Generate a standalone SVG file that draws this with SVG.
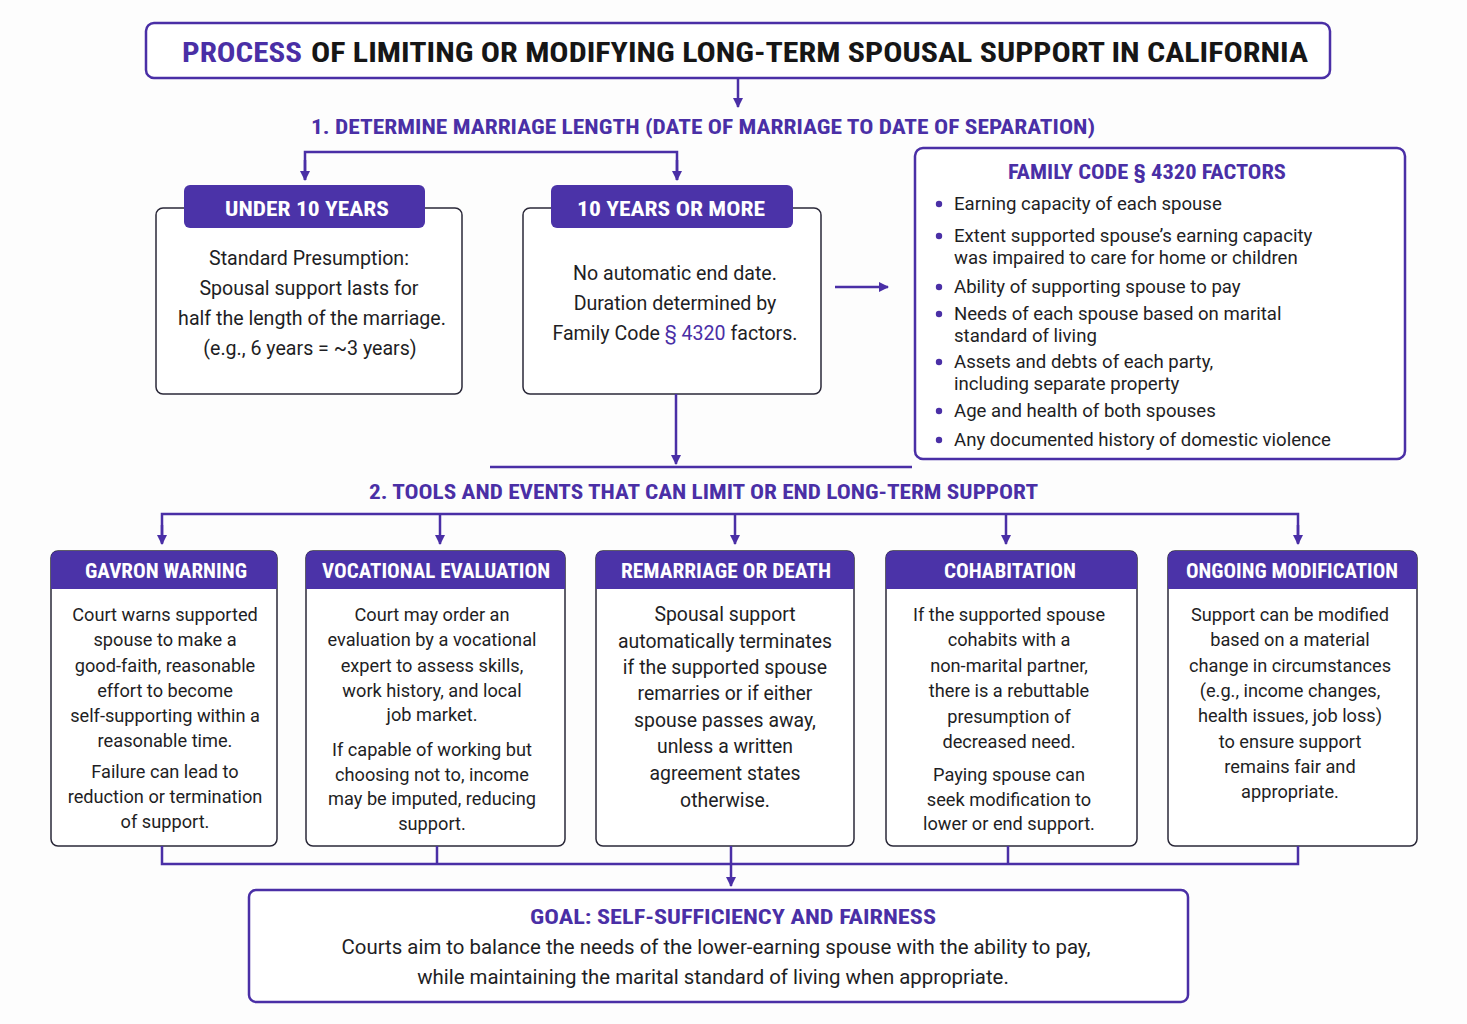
<svg xmlns="http://www.w3.org/2000/svg" width="1467" height="1024" viewBox="0 0 1467 1024">
<defs>
<marker id="ah" viewBox="0 0 10 10" refX="9" refY="5" markerWidth="10" markerHeight="10" markerUnits="userSpaceOnUse" orient="auto">
<path d="M0,0 L10,5 L0,10 Z" fill="#4a2fa6"/>
</marker>
<style>
text{font-family:"Liberation Sans Narrow","Roboto Condensed","Liberation Sans",Roboto,sans-serif;}
.hd{font-weight:bold;fill:#4a2fa6;font-size:21px;}
.bw{font-weight:bold;fill:#ffffff;font-size:21px;}
.bt{font-family:Roboto,"Liberation Sans",sans-serif;fill:#1e1e24;font-size:19.6px;text-anchor:middle;}
.ft{font-family:Roboto,"Liberation Sans",sans-serif;fill:#1e1e24;font-size:18.6px;}
.bb{font-family:Roboto,"Liberation Sans",sans-serif;fill:#1e1e24;font-size:18.2px;text-anchor:middle;}
.br{font-family:Roboto,"Liberation Sans",sans-serif;fill:#1e1e24;font-size:19.4px;text-anchor:middle;}
.gt{font-family:Roboto,"Liberation Sans",sans-serif;fill:#1e1e24;font-size:20.4px;text-anchor:middle;}
.c{fill:none;stroke:#4a2fa6;stroke-width:2.5;}
.ca{fill:none;stroke:#4a2fa6;stroke-width:2.5;marker-end:url(#ah);}
.box{fill:#ffffff;stroke:#2a2838;stroke-width:1.5;}
.pbox{fill:#ffffff;stroke:#4a2fa6;stroke-width:2.5;}
.badge{fill:#4b33a8;}
.dot{fill:#4a2fa6;}
</style>
</defs>
<rect width="1467" height="1024" fill="#fdfdfd"/>

<g id="title">
<rect class="pbox" x="146" y="23" width="1184" height="55" rx="8"/>
<text x="182" y="62" font-size="28" font-weight="bold" fill="#4a2fa6" textLength="120" lengthAdjust="spacingAndGlyphs">PROCESS</text>
<text x="311" y="62" font-size="28" font-weight="bold" fill="#161616" textLength="997" lengthAdjust="spacingAndGlyphs">OF LIMITING OR MODIFYING LONG-TERM SPOUSAL SUPPORT IN CALIFORNIA</text>
</g>

<g id="step1">
<text class="hd" x="311" y="134" textLength="784" lengthAdjust="spacingAndGlyphs">1. DETERMINE MARRIAGE LENGTH (DATE OF MARRIAGE TO DATE OF SEPARATION)</text>
</g>

<g id="under10">
<rect class="box" x="156" y="208" width="306" height="186" rx="7"/>
<rect class="badge" x="184" y="185" width="241" height="43" rx="6"/>
<text class="bw" x="225" y="216" textLength="164" lengthAdjust="spacingAndGlyphs">UNDER 10 YEARS</text>
<text class="bt" x="309" y="265">Standard Presumption:</text>
<text class="bt" x="309" y="295">Spousal support lasts for</text>
<text class="bt" x="312" y="325">half the length of the marriage.</text>
<text class="bt" x="310" y="355">(e.g., 6 years = ~3 years)</text>
</g>

<g id="over10">
<rect class="box" x="523" y="208" width="298" height="186" rx="7"/>
<rect class="badge" x="551" y="185" width="242" height="43" rx="6"/>
<text class="bw" x="577" y="216" textLength="188" lengthAdjust="spacingAndGlyphs">10 YEARS OR MORE</text>
<text class="bt" x="675" y="280">No automatic end date.</text>
<text class="bt" x="675" y="310">Duration determined by</text>
<text class="bt" x="675" y="340">Family Code <tspan fill="#4a2fa6">§ 4320</tspan> factors.</text>
</g>

<g id="factors">
<rect class="pbox" x="915" y="148" width="490" height="311" rx="8"/>
<text class="hd" x="1008" y="179" textLength="278" lengthAdjust="spacingAndGlyphs">FAMILY CODE § 4320 FACTORS</text>
<circle class="dot" cx="939" cy="204" r="3.2"/>
<text class="ft" x="954" y="210">Earning capacity of each spouse</text>
<circle class="dot" cx="939" cy="236" r="3.2"/>
<text class="ft" x="954" y="242">Extent supported spouse’s earning capacity</text>
<text class="ft" x="954" y="264">was impaired to care for home or children</text>
<circle class="dot" cx="939" cy="287" r="3.2"/>
<text class="ft" x="954" y="293">Ability of supporting spouse to pay</text>
<circle class="dot" cx="939" cy="314" r="3.2"/>
<text class="ft" x="954" y="320">Needs of each spouse based on marital</text>
<text class="ft" x="954" y="342">standard of living</text>
<circle class="dot" cx="939" cy="362" r="3.2"/>
<text class="ft" x="954" y="368">Assets and debts of each party,</text>
<text class="ft" x="954" y="390">including separate property</text>
<circle class="dot" cx="939" cy="411" r="3.2"/>
<text class="ft" x="954" y="417">Age and health of both spouses</text>
<circle class="dot" cx="939" cy="440" r="3.2"/>
<text class="ft" x="954" y="446">Any documented history of domestic violence</text>
</g>

<g id="step2">
<text class="hd" x="369" y="499" textLength="669" lengthAdjust="spacingAndGlyphs">2. TOOLS AND EVENTS THAT CAN LIMIT OR END LONG-TERM SUPPORT</text>
</g>

<g id="gavron">
<rect class="box" x="51" y="551" width="226" height="295" rx="7"/>
<path class="badge" d="M51,589 V558 Q51,551 58,551 H270 Q277,551 277,558 V589 Z"/>
<text class="bw" x="85" y="578" font-size="20" textLength="162" lengthAdjust="spacingAndGlyphs">GAVRON WARNING</text>
<text class="bb" x="165" y="621">Court warns supported</text>
<text class="bb" x="165" y="646">spouse to make a</text>
<text class="bb" x="165" y="672">good-faith, reasonable</text>
<text class="bb" x="165" y="697">effort to become</text>
<text class="bb" x="165" y="722">self-supporting within a</text>
<text class="bb" x="165" y="747">reasonable time.</text>
<text class="bb" x="165" y="778">Failure can lead to</text>
<text class="bb" x="165" y="803">reduction or termination</text>
<text class="bb" x="165" y="828">of support.</text>
</g>

<g id="vocational">
<rect class="box" x="306" y="551" width="259" height="295" rx="7"/>
<path class="badge" d="M306,589 V558 Q306,551 313,551 H558 Q565,551 565,558 V589 Z"/>
<text class="bw" x="322" y="578" font-size="20" textLength="228" lengthAdjust="spacingAndGlyphs">VOCATIONAL EVALUATION</text>
<text class="bb" x="432" y="621">Court may order an</text>
<text class="bb" x="432" y="646">evaluation by a vocational</text>
<text class="bb" x="432" y="672">expert to assess skills,</text>
<text class="bb" x="432" y="697">work history, and local</text>
<text class="bb" x="432" y="721">job market.</text>
<text class="bb" x="432" y="756">If capable of working but</text>
<text class="bb" x="432" y="781">choosing not to, income</text>
<text class="bb" x="432" y="805">may be imputed, reducing</text>
<text class="bb" x="432" y="830">support.</text>
</g>

<g id="remarriage">
<rect class="box" x="596" y="551" width="258" height="295" rx="7"/>
<path class="badge" d="M596,589 V558 Q596,551 603,551 H847 Q854,551 854,558 V589 Z"/>
<text class="bw" x="621" y="578" font-size="20" textLength="210" lengthAdjust="spacingAndGlyphs">REMARRIAGE OR DEATH</text>
<text class="br" x="725" y="621">Spousal support</text>
<text class="br" x="725" y="648">automatically terminates</text>
<text class="br" x="725" y="674">if the supported spouse</text>
<text class="br" x="725" y="700">remarries or if either</text>
<text class="br" x="725" y="727">spouse passes away,</text>
<text class="br" x="725" y="753">unless a written</text>
<text class="br" x="725" y="780">agreement states</text>
<text class="br" x="725" y="807">otherwise.</text>
</g>

<g id="cohabitation">
<rect class="box" x="886" y="551" width="251" height="295" rx="7"/>
<path class="badge" d="M886,589 V558 Q886,551 893,551 H1130 Q1137,551 1137,558 V589 Z"/>
<text class="bw" x="944" y="578" font-size="20" textLength="132" lengthAdjust="spacingAndGlyphs">COHABITATION</text>
<text class="bb" x="1009" y="621">If the supported spouse</text>
<text class="bb" x="1009" y="646">cohabits with a</text>
<text class="bb" x="1009" y="672">non-marital partner,</text>
<text class="bb" x="1009" y="697">there is a rebuttable</text>
<text class="bb" x="1009" y="723">presumption of</text>
<text class="bb" x="1009" y="748">decreased need.</text>
<text class="bb" x="1009" y="781">Paying spouse can</text>
<text class="bb" x="1009" y="806">seek modification to</text>
<text class="bb" x="1009" y="830">lower or end support.</text>
</g>

<g id="ongoing">
<rect class="box" x="1168" y="551" width="249" height="295" rx="7"/>
<path class="badge" d="M1168,589 V558 Q1168,551 1175,551 H1410 Q1417,551 1417,558 V589 Z"/>
<text class="bw" x="1186" y="578" font-size="20" textLength="212" lengthAdjust="spacingAndGlyphs">ONGOING MODIFICATION</text>
<text class="bb" x="1290" y="621">Support can be modified</text>
<text class="bb" x="1290" y="646">based on a material</text>
<text class="bb" x="1290" y="672">change in circumstances</text>
<text class="bb" x="1290" y="697">(e.g., income changes,</text>
<text class="bb" x="1290" y="722">health issues, job loss)</text>
<text class="bb" x="1290" y="748">to ensure support</text>
<text class="bb" x="1290" y="773">remains fair and</text>
<text class="bb" x="1290" y="798">appropriate.</text>
</g>

<g id="goal">
<rect class="pbox" x="249" y="890" width="939" height="112" rx="7"/>
<text class="hd" x="530" y="924" textLength="406" lengthAdjust="spacingAndGlyphs">GOAL: SELF-SUFFICIENCY AND FAIRNESS</text>
<text class="gt" x="716" y="954">Courts aim to balance the needs of the lower-earning spouse with the ability to pay,</text>
<text class="gt" x="713" y="984">while maintaining the marital standard of living when appropriate.</text>
</g>

<g id="connectors">
<path class="ca" d="M738,79 V107"/>
<path class="c" d="M305,180 V152 H677 V180"/>
<path class="ca" d="M305,160 V180"/>
<path class="ca" d="M677,160 V180"/>
<path class="ca" d="M835,287 H888"/>
<path class="ca" d="M676,394 V464"/>
<path class="c" d="M490,467 H912"/>
<path class="c" d="M162,543 V514 H1298 V543"/>
<path class="ca" d="M162,525 V544"/>
<path class="ca" d="M440,514 V544"/>
<path class="ca" d="M735,514 V544"/>
<path class="ca" d="M1006,514 V544"/>
<path class="ca" d="M1298,525 V544"/>
<path class="c" d="M162,846 V864 H1298 V846"/>
<path class="c" d="M437,846 V864"/>
<path class="c" d="M1008,846 V864"/>
<path class="ca" d="M731,846 V886"/>
</g>
</svg>
